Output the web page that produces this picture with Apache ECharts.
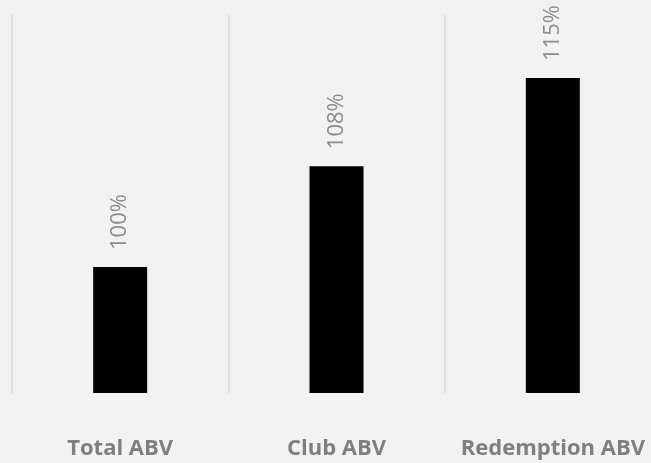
<!DOCTYPE html>
<html>
<head>
<meta charset="utf-8">
<script src="https://cdn.jsdelivr.net/npm/echarts@6/dist/echarts.min.js"></script>
<style>
  html, body { margin: 0; padding: 0; background: #f2f2f2; }
  #chart { width: 651px; height: 463px; }
</style>
</head>
<body>
<div id="chart"></div>
<script>
// data
const categories = ["Total ABV", "Club ABV", "Redemption ABV"];
const abvValues = [100, 108, 115];

let chart = echarts.init(document.getElementById("chart"));

const optionData = {
  backgroundColor: "#f2f2f2",
  animation: false,
  grid: { left: 12, top: 15, width: 649, height: 378, outerBoundsMode: "none", containLabel: false },
  xAxis: {
    type: "category",
    data: categories,
    axisLine: { show: false },
    axisTick: { show: false },
    splitLine: { show: true, interval: 0, lineStyle: { color: "#d9d9d9", width: 1.5 } },
    axisLabel: {
      interval: 0,
      margin: 45,
      color: "#7f7f7f",
      fontSize: 22,
      fontWeight: "bold",
      fontFamily: "Open Sans",
      hideOverlap: false,
    },
  },
  yAxis: {
    type: "value",
    min: 90,
    max: 120,
    show: false,
    splitLine: { show: false },
  },
  series: [
    {
      type: "bar",
      data: abvValues,
      barWidth: 54,
      itemStyle: { color: "#000000" },
      label: {
        show: true,
        position: "top",
        rotate: 90,
        align: "left",
        verticalAlign: "middle",
        distance: 17,
        color: "#8c8c8c",
        fontSize: 22,
        fontFamily: "Open Sans",
        formatter: (p) => p.value + "%",
      },
    },
  ],
};
chart.setOption(optionData);
</script>
</body>
</html>
